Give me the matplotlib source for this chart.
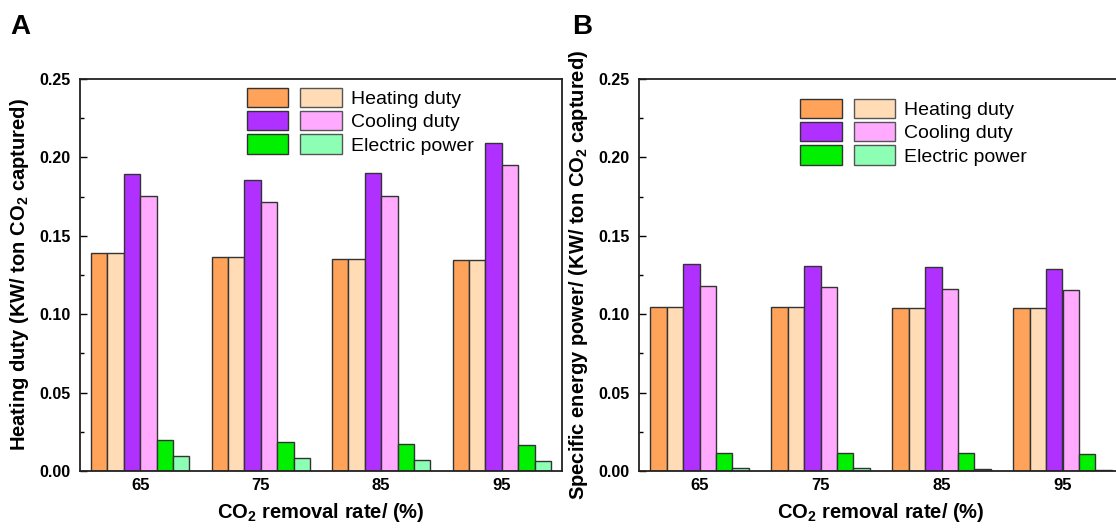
import numpy as np
import matplotlib
matplotlib.use('Agg')
import matplotlib.pyplot as plt
from matplotlib.patches import Patch
from matplotlib.legend_handler import HandlerTuple
from matplotlib.ticker import MultipleLocator

plt.rcParams['font.family'] = ['Liberation Sans', 'DejaVu Sans']
plt.rcParams['mathtext.fontset'] = 'custom'
plt.rcParams['mathtext.rm'] = 'Liberation Sans'
plt.rcParams['mathtext.bf'] = 'Liberation Sans:bold'

# removal rates (x categories)
rates = ['65', '75', '85', '95']
series_names = ['Heating duty', 'Cooling duty', 'Electric power']

# panel A values (dark / light bar of each pair)
heat_a_dark = [0.139, 0.1365, 0.1352, 0.1348]
heat_a_light = [0.139, 0.1365, 0.1352, 0.1348]
cool_a_dark = [0.1894, 0.1856, 0.1898, 0.209]
cool_a_light = [0.1754, 0.1718, 0.1756, 0.1952]
elec_a_dark = [0.0196, 0.0183, 0.0174, 0.0166]
elec_a_light = [0.0094, 0.0083, 0.0072, 0.0066]

# panel B values
heat_b_dark = [0.1046, 0.1046, 0.1037, 0.1037]
heat_b_light = [0.1046, 0.1046, 0.1037, 0.1037]
cool_b_dark = [0.1322, 0.131, 0.1299, 0.129]
cool_b_light = [0.1182, 0.1173, 0.1159, 0.1152]
elec_b_dark = [0.0117, 0.0113, 0.0113, 0.0111]
elec_b_light = [0.0019, 0.0017, 0.0013, 0.0009]

dark_colors = ['#ffa35a', '#b030ff', '#00f000']
light_colors = ['#ffdcb6', '#ffaaff', '#8cffb4']
edge = '#333333'


def draw_panel(ax, series, ylabel, legend_anchor):
    x = np.arange(len(rates))
    w = 0.136
    handles = []
    for k in range(3):
        dark, light = series[k]
        ax.bar(x + (2 * k - 2.5) * w, dark, w, color=dark_colors[k], edgecolor=edge, linewidth=1)
        ax.bar(x + (2 * k + 1 - 2.5) * w, light, w, color=light_colors[k], edgecolor=edge, linewidth=1)
        handles.append((Patch(facecolor=dark_colors[k], edgecolor=edge, linewidth=1),
                        Patch(facecolor=light_colors[k], edgecolor='#555555', linewidth=1)))

    ax.set_xlim(-0.5, 3.5)
    ax.set_ylim(0, 0.25)
    ax.set_xticks(x)
    ax.set_xticklabels(rates)
    ax.yaxis.set_major_locator(MultipleLocator(0.05))
    ax.yaxis.set_minor_locator(MultipleLocator(0.025))
    ax.yaxis.set_major_formatter(plt.FormatStrFormatter('%.2f'))
    ax.tick_params(axis='y', which='major', direction='in', length=5, width=1, labelsize=11.5, pad=7)
    ax.tick_params(axis='y', which='minor', direction='in', length=3, width=1)
    ax.tick_params(axis='x', length=0, labelsize=12, pad=5)
    for lab in ax.get_xticklabels() + ax.get_yticklabels():
        lab.set_fontweight('bold')
    for sp in ax.spines.values():
        sp.set_linewidth(1.3)
        sp.set_color('#222222')

    ax.set_xlabel(r'CO$_\mathbf{2}$ removal rate/ (%)', fontsize=14.5, fontweight='bold', labelpad=6)
    ax.set_ylabel(ylabel, fontsize=14.5, fontweight='bold', labelpad=6)

    ax.legend(handles, series_names, handler_map={tuple: HandlerTuple(ndivide=None, pad=0.62)},
              loc='upper left', bbox_to_anchor=legend_anchor, frameon=False, fontsize=14,
              handlelength=4.9, handleheight=1.15, labelspacing=0.15, handletextpad=0.45,
              borderpad=0, borderaxespad=0)


fig = plt.figure(figsize=(11.16, 5.28), dpi=100)
ax_a = fig.add_axes([80 / 1116, 57 / 528, 482 / 1116, 392 / 528])
ax_b = fig.add_axes([639 / 1116, 57 / 528, 484 / 1116, 392 / 528])

draw_panel(ax_a, [(heat_a_dark, heat_a_light), (cool_a_dark, cool_a_light), (elec_a_dark, elec_a_light)],
           r'Heating duty (KW/ ton CO$_\mathbf{2}$ captured)', (0.346, 0.977))
draw_panel(ax_b, [(heat_b_dark, heat_b_light), (cool_b_dark, cool_b_light), (elec_b_dark, elec_b_light)],
           r'Specific energy power/ (KW/ ton CO$_\mathbf{2}$ captured)', (0.333, 0.949))

fig.text(10 / 1116, 1 - 14 / 528, 'A', fontsize=20, fontweight='bold', va='top', ha='left')
fig.text(572 / 1116, 1 - 14 / 528, 'B', fontsize=20, fontweight='bold', va='top', ha='left')

fig.savefig('out.png', dpi=100)
